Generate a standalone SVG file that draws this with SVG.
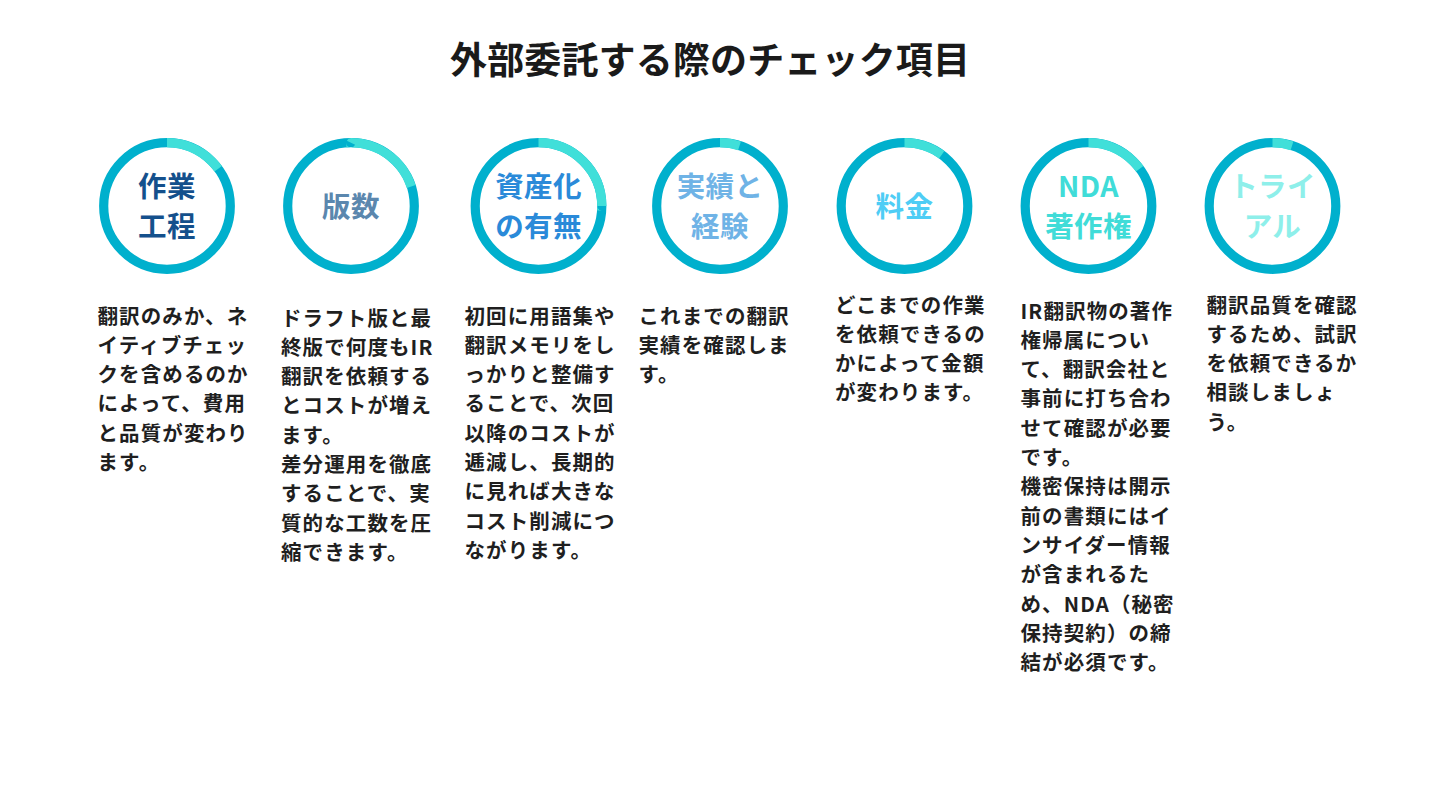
<svg xmlns="http://www.w3.org/2000/svg" width="1440" height="810" viewBox="0 0 1440 810">
<style>
text{font-family:"Noto Sans CJK JP","Noto Sans",sans-serif;font-weight:700}
.title{font-size:37px;letter-spacing:.15px;fill:#1a1a1a}
.lab{font-size:28.5px;letter-spacing:.4px;text-anchor:middle}
.body{font-size:20.5px;letter-spacing:1.1px;fill:#1f1f1f}
.base{fill:#fff;stroke:#00b0cd;stroke-width:9.2}
.hi{fill:none;stroke:#40dfd9;stroke-width:9.2}
</style>
<rect width="1440" height="810" fill="#fff"/>
<text id="title" class="title" x="450" y="74">外部委託する際のチェック項目</text>
<g id="connectors"/>
<g id="n1">
<circle class="base" cx="167" cy="206" r="63.3"/>
<circle class="hi" cx="167" cy="206" r="63.3" pathLength="100" stroke-dasharray="15 85" transform="rotate(-90 167 206)"/>
<text class="lab" fill="#14508c"><tspan x="167" y="197">作業</tspan><tspan x="167" y="237">工程</tspan></text>
<text class="body"><tspan x="97.5" y="323.5">翻訳のみか、ネ</tspan><tspan x="97.5" y="352.8">イティブチェッ</tspan><tspan x="97.5" y="382.1">クを含めるのか</tspan><tspan x="97.5" y="411.4">によって、費用</tspan><tspan x="97.5" y="440.7">と品質が変わり</tspan><tspan x="97.5" y="470">ます。</tspan></text>
</g>
<g id="n2">
<circle class="base" cx="351" cy="206" r="63.3"/>
<circle class="hi" cx="351" cy="206" r="63.3" pathLength="100" stroke-dasharray="20 80" transform="rotate(-90 351 206)"/>
<text class="lab" fill="#5b87ae"><tspan x="351" y="217">版数</tspan></text>
<text class="body"><tspan x="281" y="325.5">ドラフト版と最</tspan><tspan x="281" y="354.8">終版で何度もIR</tspan><tspan x="281" y="384.1">翻訳を依頼する</tspan><tspan x="281" y="413.4">とコストが増え</tspan><tspan x="281" y="442.7">ます。</tspan><tspan x="281" y="472">差分運用を徹底</tspan><tspan x="281" y="501.3">することで、実</tspan><tspan x="281" y="530.6">質的な工数を圧</tspan><tspan x="281" y="559.9">縮できます。</tspan></text>
</g>
<g id="n3">
<circle class="base" cx="538.5" cy="206" r="63.3"/>
<circle class="hi" cx="538.5" cy="206" r="63.3" pathLength="100" stroke-dasharray="25 75" transform="rotate(-90 538.5 206)"/>
<text class="lab" fill="#2a8ad9"><tspan x="538.5" y="197">資産化</tspan><tspan x="538.5" y="237">の有無</tspan></text>
<text class="body"><tspan x="464.5" y="323.5">初回に用語集や</tspan><tspan x="464.5" y="352.8">翻訳メモリをし</tspan><tspan x="464.5" y="382.1">っかりと整備す</tspan><tspan x="464.5" y="411.4">ることで、次回</tspan><tspan x="464.5" y="440.7">以降のコストが</tspan><tspan x="464.5" y="470">逓減し、長期的</tspan><tspan x="464.5" y="499.3">に見れば大きな</tspan><tspan x="464.5" y="528.6">コスト削減につ</tspan><tspan x="464.5" y="557.9">ながります。</tspan></text>
</g>
<g id="n4">
<circle class="base" cx="720" cy="206" r="63.3"/>
<circle class="hi" cx="720" cy="206" r="63.3" pathLength="100" stroke-dasharray="5 95" transform="rotate(-90 720 206)"/>
<text class="lab" fill="#6fb3e6"><tspan x="720" y="197">実績と</tspan><tspan x="720" y="237">経験</tspan></text>
<text class="body"><tspan x="638.5" y="323.5">これまでの翻訳</tspan><tspan x="638.5" y="352.8">実績を確認しま</tspan><tspan x="638.5" y="382.1">す。</tspan></text>
</g>
<g id="n5">
<circle class="base" cx="904.5" cy="206" r="63.3"/>
<circle class="hi" cx="904.5" cy="206" r="63.3" pathLength="100" stroke-dasharray="10 90" transform="rotate(-90 904.5 206)"/>
<text class="lab" fill="#4ecdf5"><tspan x="904.5" y="217">料金</tspan></text>
<text class="body"><tspan x="835" y="312.5">どこまでの作業</tspan><tspan x="835" y="341.8">を依頼できるの</tspan><tspan x="835" y="371.1">かによって金額</tspan><tspan x="835" y="400.4">が変わります。</tspan></text>
</g>
<g id="n6">
<circle class="base" cx="1088.5" cy="206" r="63.3"/>
<circle class="hi" cx="1088.5" cy="206" r="63.3" pathLength="100" stroke-dasharray="15 85" transform="rotate(-90 1088.5 206)"/>
<text class="lab" fill="#40dcd8"><tspan x="1088.5" y="197">NDA</tspan><tspan x="1088.5" y="237">著作権</tspan></text>
<text class="body"><tspan x="1020.5" y="318.5">IR翻訳物の著作</tspan><tspan x="1020.5" y="347.8">権帰属につい</tspan><tspan x="1020.5" y="377.1">て、翻訳会社と</tspan><tspan x="1020.5" y="406.4">事前に打ち合わ</tspan><tspan x="1020.5" y="435.7">せて確認が必要</tspan><tspan x="1020.5" y="465">です。</tspan><tspan x="1020.5" y="494.3">機密保持は開示</tspan><tspan x="1020.5" y="523.6">前の書類にはイ</tspan><tspan x="1020.5" y="552.9">ンサイダー情報</tspan><tspan x="1020.5" y="582.2">が含まれるた</tspan><tspan x="1020.5" y="611.5">め、NDA（秘密</tspan><tspan x="1020.5" y="640.8">保持契約）の締</tspan><tspan x="1020.5" y="670.1">結が必須です。</tspan></text>
</g>
<g id="n7">
<circle class="base" cx="1272.5" cy="206" r="63.3"/>
<circle class="hi" cx="1272.5" cy="206" r="63.3" pathLength="100" stroke-dasharray="5 95" transform="rotate(-90 1272.5 206)"/>
<text class="lab" fill="#8eefea"><tspan x="1272.5" y="197">トライ</tspan><tspan x="1272.5" y="237">アル</tspan></text>
<text class="body"><tspan x="1206.5" y="312.5">翻訳品質を確認</tspan><tspan x="1206.5" y="341.8">するため、試訳</tspan><tspan x="1206.5" y="371.1">を依頼できるか</tspan><tspan x="1206.5" y="400.4">相談しましょ</tspan><tspan x="1206.5" y="429.7">う。</tspan></text>
</g>
</svg>
